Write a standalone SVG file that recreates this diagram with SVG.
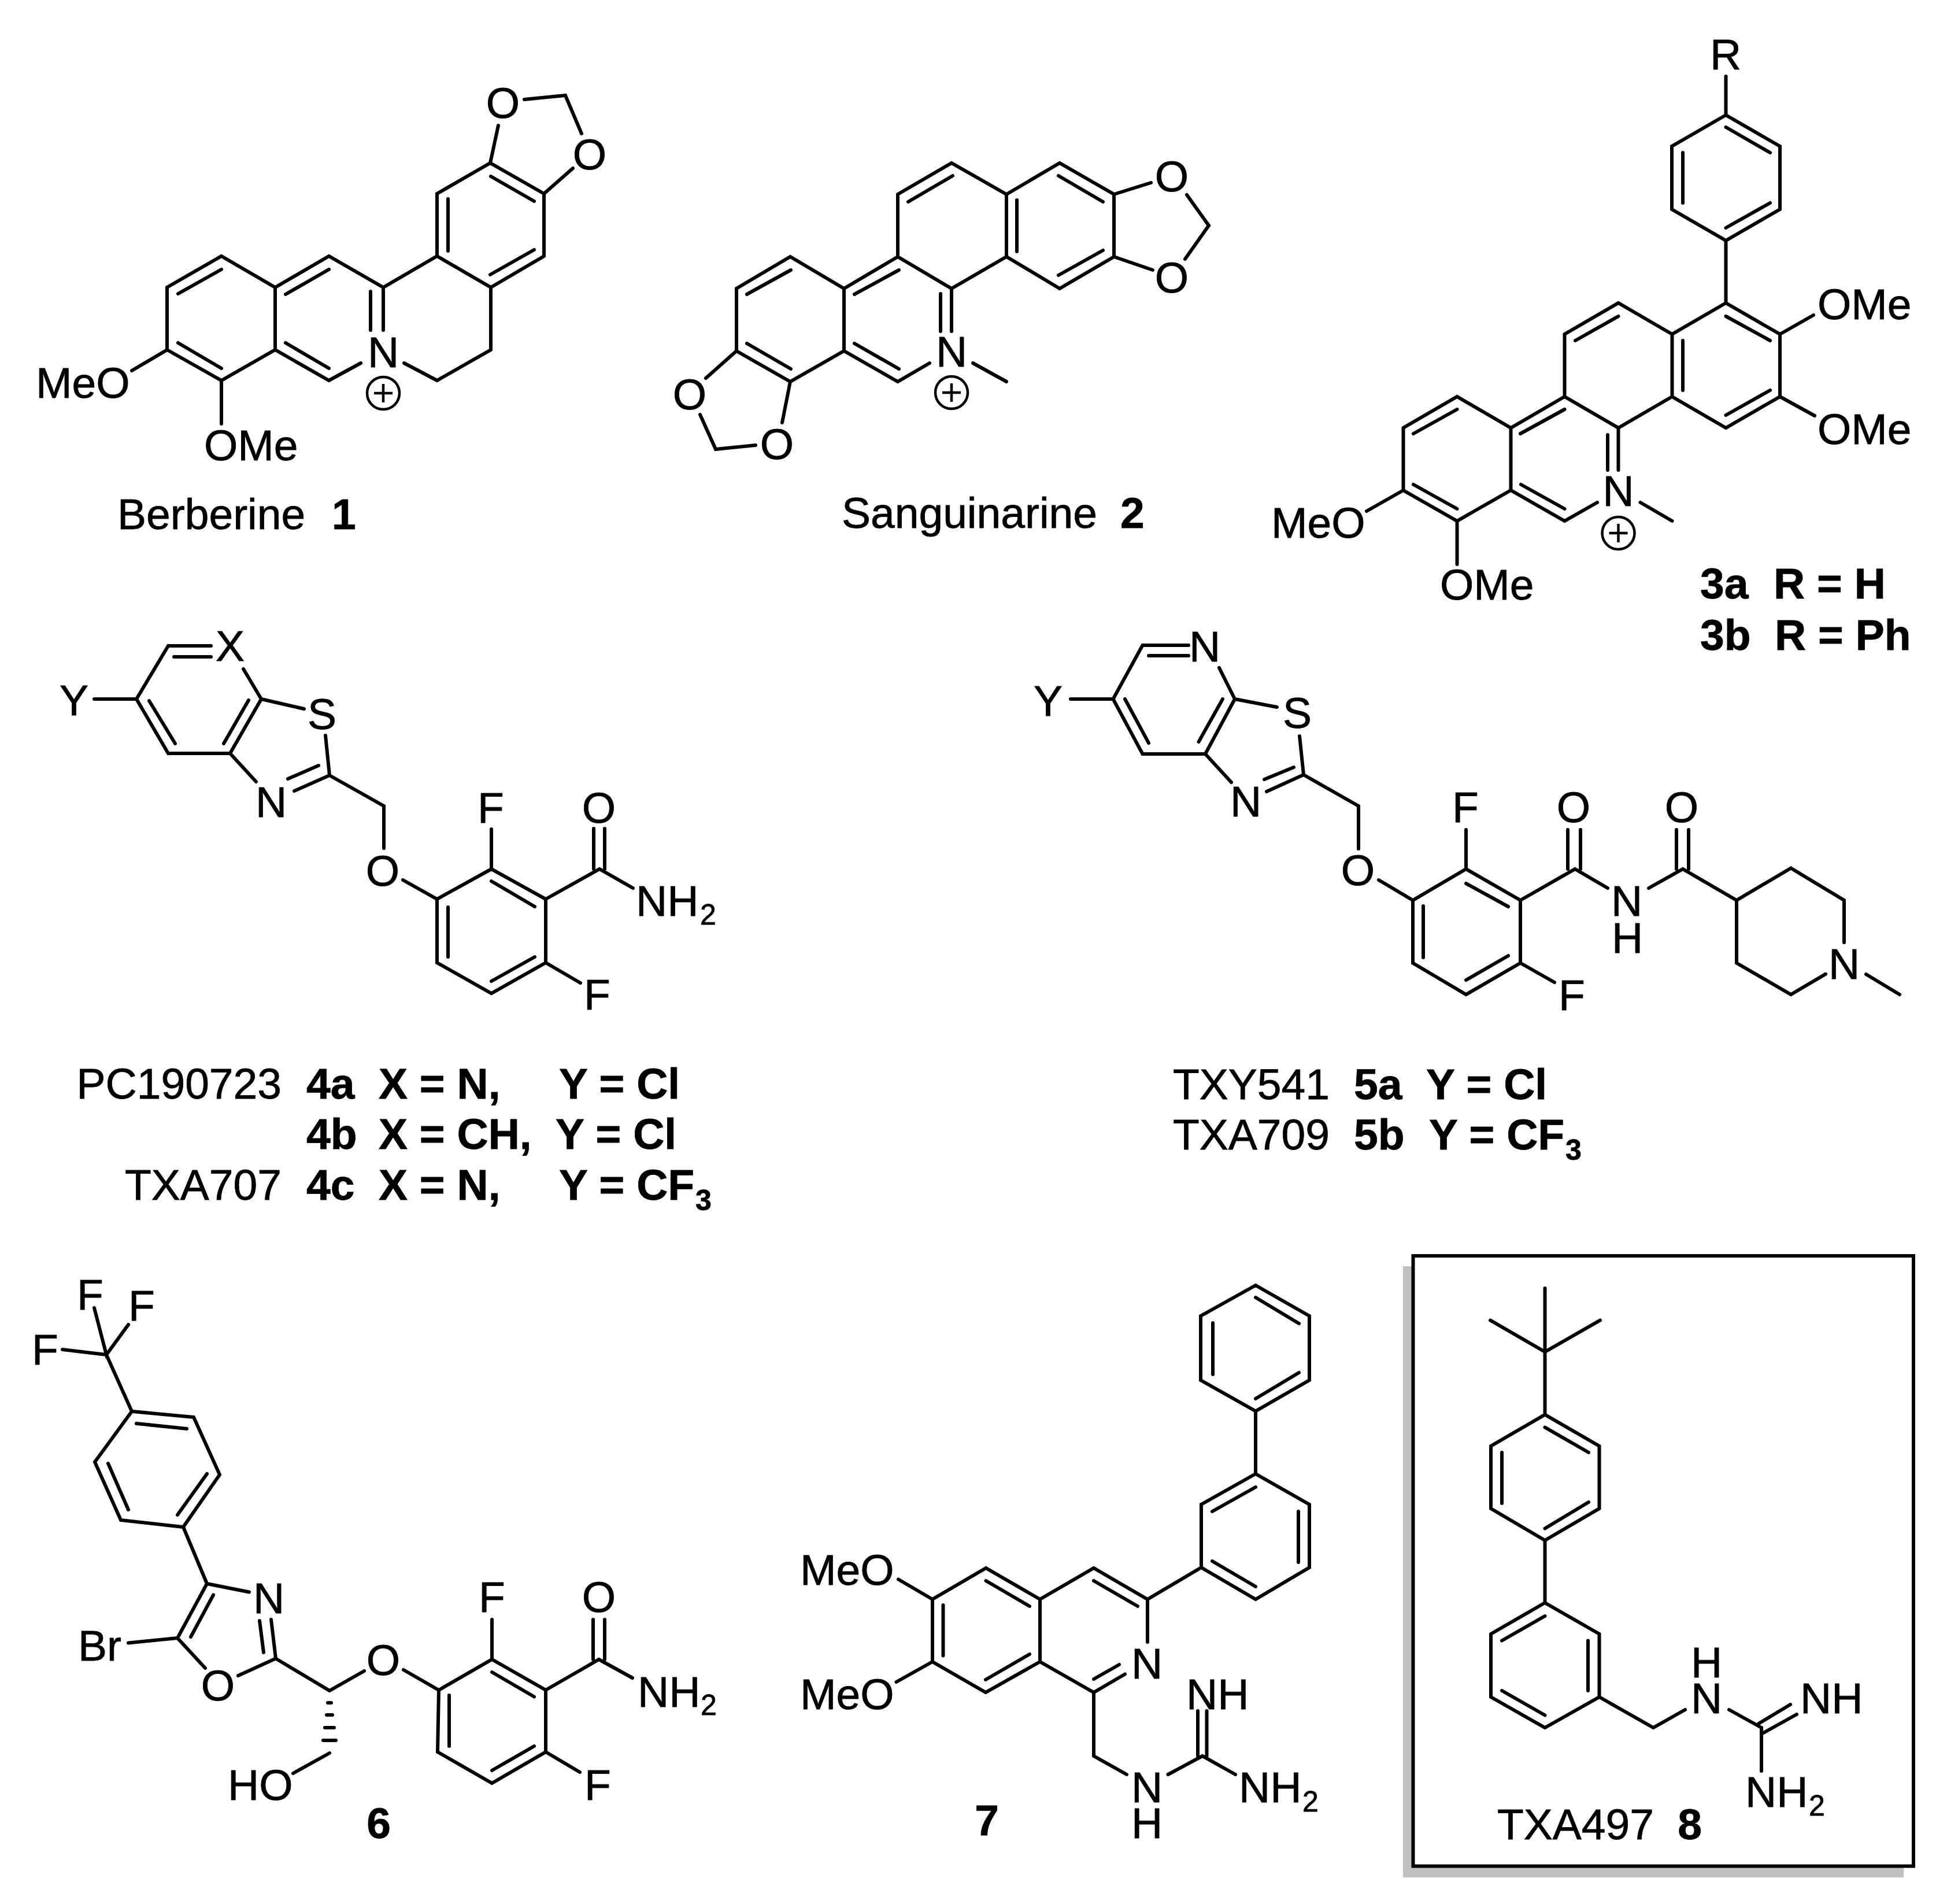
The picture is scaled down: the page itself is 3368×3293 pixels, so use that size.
<svg xmlns="http://www.w3.org/2000/svg" width="3368" height="3293" viewBox="0 0 3368 3293">
<style>
text{font-family:"Liberation Sans",Arial,sans-serif;font-size:75px;fill:#000;stroke:#000;stroke-width:.8}
.t{font-weight:bold}
.m{text-anchor:middle}
.e{text-anchor:end}
.s{font-size:50px}
.b{fill:none;stroke:#000;stroke-width:6;stroke-linecap:round;stroke-linejoin:miter}
.c{fill:none;stroke:#000;stroke-width:4.5}
</style>
<rect width="3368" height="3293" fill="#fff"/>
<g id="mol1">
<path class="b" d="M228 641L289 605L289 497L383 443L476 497L569 443L663 497L756 443L849 497L849 605L756 658L699 628M624 628L569 658L476 605L383 658L289 605M476 497L476 605M383 658L383 733M663 497L663 571M641 504L641 571M308 508L383 466M308 593L383 637M494 509L569 466M494 593L569 637M756 443L756 335L848 282L941 335L941 443L849 497M775 344L775 434M849 305L924 348M924 432L848 475M848 282L862 217M907 172L978 165L1006 231M991 291L941 335"/>
<circle class="c" cx="663" cy="680" r="28"/><path class="c" d="M647 680H679M663 664V696"/>
<text class="m" x="663" y="635">N</text><text class="m" x="870" y="204">O</text><text class="m" x="1020" y="293">O</text>
<text x="62" y="688">MeO</text><text x="353" y="796">OMe</text>
<text x="203" y="915">Berberine</text><text class="t" x="574" y="915">1</text>
</g>
<g id="mol2">
<path class="b" d="M1553 336L1646 282L1741 336L1833 282L1927 336L1927 444L1833 499L1741 444L1646 499L1553 444L1553 336M1741 336L1741 444M1553 444L1460 499L1367 444L1274 499L1274 607L1367 660L1460 607L1553 660L1608 628M1460 499L1460 607M1683 628L1741 660M1646 499L1646 573M1627 508L1627 573M1571 349L1648 304M1759 346L1759 435M1831 304L1908 349M1908 433L1831 476M1478 509L1555 467M1292 509L1368 467M1292 594L1368 638M1478 594L1555 638M1927 336L1991 316M2053 337L2091 390L2050 448M1927 444L1994 467M1274 607L1221 654M1211 717L1238 777L1307 770M1367 660L1353 731"/>
<circle class="c" cx="1646" cy="679" r="28"/><path class="c" d="M1630 679H1662M1646 663V695"/>
<text class="m" x="1646" y="634">N</text><text class="m" x="2027" y="331">O</text><text class="m" x="2027" y="506">O</text><text class="m" x="1193" y="708">O</text><text class="m" x="1344" y="794">O</text>
<text x="1456" y="913">Sanguinarine</text><text class="t" x="1938" y="913">2</text>
</g>
<g id="mol3">
<path class="b" d="M2985.5 132L2985.5 199L3079 253L3079 362L2985.5 416L2892 362L2892 253L2985.5 199M2985.5 220L3062 264M2911 264L2911 351M2985.5 394L3062 351M2985.5 416L2985.5 524L3079 578L3079 686L2985.5 740L2892.5 686L2892.5 578L2985.5 524M2892.5 578L2799.5 524L2706.5 578L2706.5 686L2799.5 740L2892.5 686M2706.5 686L2613.5 740L2520.5 686L2427.5 740L2427.5 848L2520.5 901L2613.5 848L2706.5 901L2763 869M2613.5 740L2613.5 848M2985.5 547L3062 589M2911 589L2911 675M3062 675L2985.5 718M2725 589L2799.5 547M2630 750L2706.5 708M2445 750L2520.5 708M2445 838L2520.5 880M2631 838L2706.5 880M2799.5 740L2799.5 813M2781 752L2781 813M2837.5 869L2892.5 901M3079 578L3137 545M3079 686L3139 719M2427.5 848L2364 884M2520.5 901L2520.5 976"/>
<circle class="c" cx="2799.5" cy="922" r="28"/><path class="c" d="M2783.5 922H2815.5M2799.5 906V938"/>
<text class="m" x="2985" y="120">R</text><text class="m" x="2799.5" y="875">N</text>
<text x="3144" y="552">OMe</text><text x="3144" y="768">OMe</text><text x="2199" y="930">MeO</text><text x="2491" y="1037">OMe</text>
<text class="t" x="2941" y="1035">3a</text><text class="t" x="3068" y="1035">R = H</text>
<text class="t" x="2941" y="1124">3b</text><text class="t" x="3070" y="1124">R = Ph</text>
</g>
<g id="mol4">
<path class="b" d="M163 1209L236 1209L291 1117L365 1117M301 1136L365 1136M236 1209L291 1303L398 1303L452 1209L421 1157M258 1212L303 1286M387 1286L430 1211M452 1209L526 1226M563 1272L570 1341L509 1368M498 1347L551 1324M398 1303L443 1352M570 1341L664 1394L664 1467M697 1522L756 1555L850 1503L944 1555L944 1665L850 1718L756 1665L756 1555M775 1569L775 1655M850 1524L925 1568M925 1655L850 1697M850 1503L850 1434M944 1665L1004 1700M944 1555L1037 1503L1095 1536M1027 1433L1027 1503M1046 1433L1046 1503"/>
<text class="m" x="128" y="1237">Y</text><text class="m" x="398" y="1143">X</text><text class="m" x="557" y="1261">S</text><text class="m" x="469" y="1413">N</text><text class="m" x="662" y="1532">O</text>
<text class="m" x="849" y="1423">F</text><text x="1010" y="1746">F</text><text class="m" x="1036" y="1423">O</text>
<text x="1100" y="1584">NH</text><text class="s" x="1211" y="1599">2</text>
<text class="e" x="487" y="1900">PC190723</text><text class="t" x="530" y="1900">4a</text><text class="t" x="655" y="1900">X = N,</text><text class="t" x="967" y="1900">Y = Cl</text>
<text class="t" x="530" y="1987">4b</text><text class="t" x="655" y="1987">X = CH,</text><text class="t" x="961" y="1987">Y = Cl</text>
<text class="e" x="487" y="2075">TXA707</text><text class="t" x="530" y="2075">4c</text><text class="t" x="655" y="2075">X = N,</text><text class="t" x="967" y="2075">Y = CF</text><text class="t s" x="1203" y="2093">3</text>
</g>
<g id="mol5">
<path class="b" d="M1852 1209L1925.5 1209L1976.5 1116L2056 1116M1987 1134L2056 1134M2109 1155L2136 1209M1925.5 1209L1976.5 1304L2085 1304L2136 1209M1946 1209L1987 1285M2073.5 1283L2115 1209M2136 1209L2209 1223M2248 1273L2255 1340L2191 1369M2187 1348L2238 1327M2085 1304L2130 1353M2255 1340L2350 1394L2350 1468M2385 1522L2444 1557L2536 1503L2630 1557L2630 1665.5L2536 1720L2444 1665.5L2444 1557M2462 1567L2462 1656M2536 1528L2609 1568M2609 1653L2536 1695M2536 1503L2536 1435M2630 1665.5L2689 1699M2630 1557L2724.5 1503L2781 1536M2712 1435L2712 1503M2734 1435L2734 1503M2852 1536L2911 1503L3004 1557L3098 1501.5L3190 1557L3190 1630M3158 1684.6L3098 1720L3004 1665.5L3004 1557M2900 1435L2900 1503M2921 1435L2921 1503M3228 1685L3286 1720"/>
<text class="m" x="1813" y="1238">Y</text><text class="m" x="2084" y="1144">N</text><text class="m" x="2244" y="1259">S</text><text class="m" x="2155" y="1412">N</text><text class="m" x="2349" y="1531">O</text>
<text class="m" x="2535" y="1422">F</text><text x="2696" y="1747">F</text><text class="m" x="2722" y="1422">O</text><text class="m" x="2909" y="1422">O</text>
<text class="m" x="2814" y="1584">N</text><text class="m" x="2815" y="1648">H</text><text class="m" x="3190" y="1693">N</text>
<text x="2029" y="1901">TXY541</text><text class="t" x="2342" y="1901">5a</text><text class="t" x="2467" y="1901">Y = Cl</text>
<text x="2029" y="1988">TXA709</text><text class="t" x="2342" y="1988">5b</text><text class="t" x="2472" y="1988">Y = CF</text><text class="t s" x="2708" y="2006">3</text>
</g>
<g id="mol6">
<path class="b" d="M163 2262L184 2343L222 2291M108 2334L184 2343L228 2441L335 2451L380 2550.5L317 2641L209 2629L164 2528.5L228 2441M236 2462L323 2471M358 2549L307 2620M222 2611L187 2531M317 2641L358 2739L431 2753.5M358 2739L307 2833L355 2885M369 2758.5L330 2831M449 2803L456 2858M469 2801L477 2868.5L412 2898M307 2833L222 2841.5M477 2868.5L570 2924L630 2890M698 2888L759 2923L851 2870L944 2923L944 3030L851 3084L757 3030L759 2923M777 2932L777 3020M851 2892L924 2934.5M924 3020L851 3062M851 2870L851 2801M944 3030L1003 3065M944 2923L1036 2870L1094 2902M1026 2801L1026 2870M1046 2801L1046 2870M570 3032L507 3067M567 2945H573M565 2966H575M562 2988H578M559 3010H581"/>
<text x="133" y="2265">F</text><text x="222" y="2284">F</text><text x="55" y="2360">F</text><text class="m" x="465" y="2790">N</text><text class="m" x="377" y="2941">O</text><text x="135" y="2872">Br</text><text class="m" x="663" y="2897">O</text>
<text class="m" x="851" y="2788">F</text><text x="1011" y="3113">F</text><text class="m" x="1036" y="2788">O</text><text x="1103" y="2952">NH</text><text class="s" x="1212" y="2966">2</text><text x="394" y="3113">HO</text><text class="t m" x="655" y="3179">6</text>
</g>
<g id="mol7">
<path class="b" d="M2172 2223L2265 2276L2265 2387L2172 2440.5L2077 2387L2077 2276L2172 2223M2172 2244L2247 2289M2098 2288L2098 2377M2172 2419L2247 2374M2172 2440.5L2172 2549L2265 2602L2265 2711L2172 2766L2078 2711L2078 2602L2172 2549M2097 2614L2172 2572M2246 2614L2246 2702M2097 2700L2172 2744M2078 2711L1985 2766L1892 2712L1799 2766L1799 2874L1892 2927L1946 2895.5M1985 2766L1985 2840M1892 2904L1936 2879M1892 2734L1968 2778M1799 2766L1705.5 2712L1613 2766L1613 2874L1705 2927L1799 2874M1705.5 2734L1781 2778M1631.5 2776L1631.5 2863.5M1705 2905L1781 2861M1613 2766L1554 2731.5M1613 2874L1550.5 2909M1892 2927L1892 3037L1949 3069M2020.5 3069L2080 3037L2137 3069M2072 2959L2072 3037M2087.5 2959L2087.5 3037"/>
<text x="1384" y="2741">MeO</text><text x="1384" y="2956">MeO</text><text class="m" x="1984" y="2903">N</text><text class="m" x="1984" y="3117">N</text><text class="m" x="1984" y="3179">H</text>
<text x="2052" y="2956">NH</text><text x="2143" y="3117">NH</text><text class="s" x="2253" y="3133">2</text><text class="t m" x="1707" y="3174">7</text>
</g>
<g id="mol8">
<rect x="2427" y="2190" width="866" height="1057" fill="#bfbfbf"/>
<rect x="2444.5" y="2172" width="865.5" height="1055.5" fill="#fff" stroke="#000" stroke-width="6"/>
<path class="b" d="M2672.5 2228L2672.5 2446.7M2578 2283.4L2672.5 2338L2768 2283.4M2672.5 2446.7L2766.5 2501L2766.5 2609L2672.5 2664L2579 2609L2579 2501L2672.5 2446.7M2672.5 2468.6L2748 2512M2598 2512L2598 2600M2672.5 2643.5L2748 2598M2672.5 2664L2672.5 2772L2766.5 2826L2766.5 2935L2672.5 2988L2579 2935L2579 2826L2672.5 2772M2598 2837.5L2672.5 2795M2747 2837.5L2747 2924M2598 2924L2672.5 2966.5M2766.5 2935L2860 2988L2915 2957M2991 2957L3047 2988L3047 3063M3042 2981L3097 2948M3047 2999L3108 2965"/>
<text class="m" x="2952" y="2963">N</text><text class="m" x="2952" y="2901">H</text><text x="3114" y="2963">NH</text><text x="3019" y="3125">NH</text><text class="s" x="3129" y="3140">2</text>
<text x="2590" y="3181">TXA497</text><text class="t m" x="2923" y="3181">8</text>
</g>
</svg>
